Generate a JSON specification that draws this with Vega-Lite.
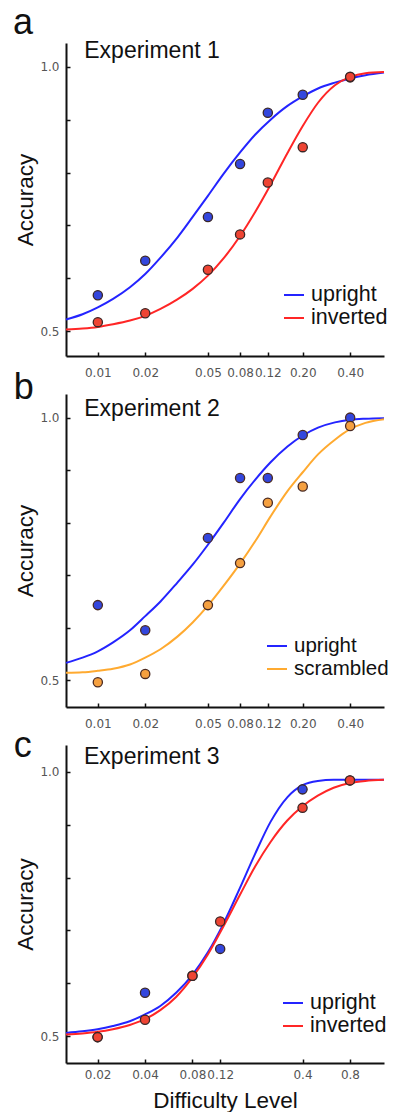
{
  "$schema": "https://vega.github.io/schema/vega-lite/v6.json",
  "background": "white",
  "padding": {"left": 12, "top": 4, "right": 2, "bottom": 0},
  "config": {
    "font": "Liberation Sans",
    "view": {"stroke": null},
    "axis": {
      "grid": false,
      "domainColor": "#111111",
      "domainWidth": 2,
      "tickColor": "#111111",
      "tickWidth": 1.5,
      "tickSize": -4,
      "labelFont": "DejaVu Sans",
      "labelFontSize": 12,
      "labelColor": "#555555",
      "titleFont": "Liberation Sans",
      "titleFontSize": 22.5,
      "titleFontWeight": "normal",
      "titleColor": "#111111"
    },
    "legend": {
      "orient": "none",
      "title": null,
      "symbolType": "stroke",
      "symbolSize": 400,
      "symbolStrokeWidth": 2,
      "labelFont": "Liberation Sans",
      "labelFontSize": 21.5,
      "labelColor": "#111111",
      "labelOffset": 6,
      "rowPadding": 1,
      "padding": 0
    }
  },
  "datasets": {
    "one": [{"k": 1}],
    "aCurve": [
      {"x": 0.00628, "acc": 0.522, "cond": "upright"}, {"x": 0.008, "acc": 0.532, "cond": "upright"}, {"x": 0.01, "acc": 0.545, "cond": "upright"}, {"x": 0.0125, "acc": 0.561, "cond": "upright"}, {"x": 0.016, "acc": 0.583, "cond": "upright"}, {"x": 0.02, "acc": 0.608, "cond": "upright"}, {"x": 0.025, "acc": 0.639, "cond": "upright"}, {"x": 0.032, "acc": 0.677, "cond": "upright"}, {"x": 0.04, "acc": 0.716, "cond": "upright"}, {"x": 0.05, "acc": 0.756, "cond": "upright"}, {"x": 0.063, "acc": 0.798, "cond": "upright"}, {"x": 0.08, "acc": 0.838, "cond": "upright"}, {"x": 0.1, "acc": 0.872, "cond": "upright"}, {"x": 0.125, "acc": 0.9, "cond": "upright"}, {"x": 0.16, "acc": 0.926, "cond": "upright"}, {"x": 0.2, "acc": 0.944, "cond": "upright"}, {"x": 0.25, "acc": 0.959, "cond": "upright"}, {"x": 0.32, "acc": 0.97, "cond": "upright"}, {"x": 0.4, "acc": 0.978, "cond": "upright"}, {"x": 0.5, "acc": 0.984, "cond": "upright"}, {"x": 0.656, "acc": 0.989, "cond": "upright"},
      {"x": 0.00628, "acc": 0.503, "cond": "inverted"}, {"x": 0.008, "acc": 0.505, "cond": "inverted"}, {"x": 0.01, "acc": 0.508, "cond": "inverted"}, {"x": 0.0125, "acc": 0.513, "cond": "inverted"}, {"x": 0.016, "acc": 0.52, "cond": "inverted"}, {"x": 0.02, "acc": 0.529, "cond": "inverted"}, {"x": 0.025, "acc": 0.542, "cond": "inverted"}, {"x": 0.032, "acc": 0.56, "cond": "inverted"}, {"x": 0.04, "acc": 0.58, "cond": "inverted"}, {"x": 0.05, "acc": 0.605, "cond": "inverted"}, {"x": 0.063, "acc": 0.638, "cond": "inverted"}, {"x": 0.08, "acc": 0.68, "cond": "inverted"}, {"x": 0.1, "acc": 0.726, "cond": "inverted"}, {"x": 0.125, "acc": 0.777, "cond": "inverted"}, {"x": 0.16, "acc": 0.837, "cond": "inverted"}, {"x": 0.2, "acc": 0.888, "cond": "inverted"}, {"x": 0.25, "acc": 0.932, "cond": "inverted"}, {"x": 0.32, "acc": 0.965, "cond": "inverted"}, {"x": 0.4, "acc": 0.981, "cond": "inverted"}, {"x": 0.5, "acc": 0.988, "cond": "inverted"}, {"x": 0.656, "acc": 0.99, "cond": "inverted"}
    ],
    "aPts": [
      {"x": 0.01, "acc": 0.568, "cond": "upright"}, {"x": 0.02, "acc": 0.633, "cond": "upright"}, {"x": 0.05, "acc": 0.716, "cond": "upright"}, {"x": 0.08, "acc": 0.816, "cond": "upright"}, {"x": 0.12, "acc": 0.913, "cond": "upright"}, {"x": 0.2, "acc": 0.947, "cond": "upright"}, {"x": 0.4, "acc": 0.98, "cond": "upright"},
      {"x": 0.01, "acc": 0.517, "cond": "inverted"}, {"x": 0.02, "acc": 0.534, "cond": "inverted"}, {"x": 0.05, "acc": 0.616, "cond": "inverted"}, {"x": 0.08, "acc": 0.683, "cond": "inverted"}, {"x": 0.12, "acc": 0.781, "cond": "inverted"}, {"x": 0.2, "acc": 0.848, "cond": "inverted"}, {"x": 0.4, "acc": 0.981, "cond": "inverted"}
    ],
    "bCurve": [
      {"x": 0.00628, "acc": 0.533, "cond": "upright"}, {"x": 0.008, "acc": 0.543, "cond": "upright"}, {"x": 0.01, "acc": 0.555, "cond": "upright"}, {"x": 0.0125, "acc": 0.572, "cond": "upright"}, {"x": 0.016, "acc": 0.595, "cond": "upright"}, {"x": 0.02, "acc": 0.622, "cond": "upright"}, {"x": 0.025, "acc": 0.65, "cond": "upright"}, {"x": 0.032, "acc": 0.686, "cond": "upright"}, {"x": 0.04, "acc": 0.72, "cond": "upright"}, {"x": 0.05, "acc": 0.758, "cond": "upright"}, {"x": 0.063, "acc": 0.8, "cond": "upright"}, {"x": 0.08, "acc": 0.845, "cond": "upright"}, {"x": 0.1, "acc": 0.882, "cond": "upright"}, {"x": 0.125, "acc": 0.915, "cond": "upright"}, {"x": 0.16, "acc": 0.945, "cond": "upright"}, {"x": 0.2, "acc": 0.966, "cond": "upright"}, {"x": 0.25, "acc": 0.981, "cond": "upright"}, {"x": 0.32, "acc": 0.991, "cond": "upright"}, {"x": 0.4, "acc": 0.996, "cond": "upright"}, {"x": 0.5, "acc": 0.998, "cond": "upright"}, {"x": 0.656, "acc": 0.999, "cond": "upright"},
      {"x": 0.00628, "acc": 0.514, "cond": "scrambled"}, {"x": 0.008, "acc": 0.515, "cond": "scrambled"}, {"x": 0.01, "acc": 0.518, "cond": "scrambled"}, {"x": 0.0125, "acc": 0.522, "cond": "scrambled"}, {"x": 0.016, "acc": 0.53, "cond": "scrambled"}, {"x": 0.02, "acc": 0.543, "cond": "scrambled"}, {"x": 0.025, "acc": 0.559, "cond": "scrambled"}, {"x": 0.032, "acc": 0.583, "cond": "scrambled"}, {"x": 0.04, "acc": 0.61, "cond": "scrambled"}, {"x": 0.05, "acc": 0.642, "cond": "scrambled"}, {"x": 0.063, "acc": 0.68, "cond": "scrambled"}, {"x": 0.08, "acc": 0.722, "cond": "scrambled"}, {"x": 0.1, "acc": 0.765, "cond": "scrambled"}, {"x": 0.125, "acc": 0.812, "cond": "scrambled"}, {"x": 0.16, "acc": 0.86, "cond": "scrambled"}, {"x": 0.2, "acc": 0.896, "cond": "scrambled"}, {"x": 0.25, "acc": 0.93, "cond": "scrambled"}, {"x": 0.32, "acc": 0.958, "cond": "scrambled"}, {"x": 0.4, "acc": 0.978, "cond": "scrambled"}, {"x": 0.5, "acc": 0.99, "cond": "scrambled"}, {"x": 0.656, "acc": 0.997, "cond": "scrambled"}
    ],
    "bPts": [
      {"x": 0.01, "acc": 0.643, "cond": "upright"}, {"x": 0.02, "acc": 0.595, "cond": "upright"}, {"x": 0.05, "acc": 0.771, "cond": "upright"}, {"x": 0.08, "acc": 0.885, "cond": "upright"}, {"x": 0.12, "acc": 0.885, "cond": "upright"}, {"x": 0.2, "acc": 0.967, "cond": "upright"}, {"x": 0.4, "acc": 1.0, "cond": "upright"},
      {"x": 0.01, "acc": 0.496, "cond": "scrambled"}, {"x": 0.02, "acc": 0.512, "cond": "scrambled"}, {"x": 0.05, "acc": 0.643, "cond": "scrambled"}, {"x": 0.08, "acc": 0.723, "cond": "scrambled"}, {"x": 0.12, "acc": 0.838, "cond": "scrambled"}, {"x": 0.2, "acc": 0.869, "cond": "scrambled"}, {"x": 0.4, "acc": 0.984, "cond": "scrambled"}
    ],
    "cCurve": [
      {"x": 0.0126, "acc": 0.506, "cond": "upright"}, {"x": 0.016, "acc": 0.509, "cond": "upright"}, {"x": 0.02, "acc": 0.513, "cond": "upright"}, {"x": 0.025, "acc": 0.519, "cond": "upright"}, {"x": 0.032, "acc": 0.528, "cond": "upright"}, {"x": 0.04, "acc": 0.541, "cond": "upright"}, {"x": 0.05, "acc": 0.557, "cond": "upright"}, {"x": 0.063, "acc": 0.582, "cond": "upright"}, {"x": 0.08, "acc": 0.616, "cond": "upright"}, {"x": 0.1, "acc": 0.658, "cond": "upright"}, {"x": 0.125, "acc": 0.711, "cond": "upright"}, {"x": 0.16, "acc": 0.78, "cond": "upright"}, {"x": 0.2, "acc": 0.845, "cond": "upright"}, {"x": 0.25, "acc": 0.905, "cond": "upright"}, {"x": 0.32, "acc": 0.952, "cond": "upright"}, {"x": 0.4, "acc": 0.975, "cond": "upright"}, {"x": 0.5, "acc": 0.983, "cond": "upright"}, {"x": 0.63, "acc": 0.985, "cond": "upright"}, {"x": 0.8, "acc": 0.985, "cond": "upright"}, {"x": 1.0, "acc": 0.985, "cond": "upright"}, {"x": 1.316, "acc": 0.985, "cond": "upright"},
      {"x": 0.0126, "acc": 0.503, "cond": "inverted"}, {"x": 0.016, "acc": 0.505, "cond": "inverted"}, {"x": 0.02, "acc": 0.508, "cond": "inverted"}, {"x": 0.025, "acc": 0.513, "cond": "inverted"}, {"x": 0.032, "acc": 0.521, "cond": "inverted"}, {"x": 0.04, "acc": 0.532, "cond": "inverted"}, {"x": 0.05, "acc": 0.549, "cond": "inverted"}, {"x": 0.063, "acc": 0.574, "cond": "inverted"}, {"x": 0.08, "acc": 0.611, "cond": "inverted"}, {"x": 0.1, "acc": 0.654, "cond": "inverted"}, {"x": 0.125, "acc": 0.706, "cond": "inverted"}, {"x": 0.16, "acc": 0.767, "cond": "inverted"}, {"x": 0.2, "acc": 0.821, "cond": "inverted"}, {"x": 0.25, "acc": 0.867, "cond": "inverted"}, {"x": 0.32, "acc": 0.908, "cond": "inverted"}, {"x": 0.4, "acc": 0.935, "cond": "inverted"}, {"x": 0.5, "acc": 0.955, "cond": "inverted"}, {"x": 0.63, "acc": 0.97, "cond": "inverted"}, {"x": 0.8, "acc": 0.979, "cond": "inverted"}, {"x": 1.0, "acc": 0.983, "cond": "inverted"}, {"x": 1.316, "acc": 0.985, "cond": "inverted"}
    ],
    "cPts": [
      {"x": 0.02, "acc": 0.498, "cond": "upright"}, {"x": 0.04, "acc": 0.582, "cond": "upright"}, {"x": 0.08, "acc": 0.614, "cond": "upright"}, {"x": 0.12, "acc": 0.665, "cond": "upright"}, {"x": 0.4, "acc": 0.967, "cond": "upright"}, {"x": 0.8, "acc": 0.984, "cond": "upright"},
      {"x": 0.02, "acc": 0.498, "cond": "inverted"}, {"x": 0.04, "acc": 0.531, "cond": "inverted"}, {"x": 0.08, "acc": 0.614, "cond": "inverted"}, {"x": 0.12, "acc": 0.717, "cond": "inverted"}, {"x": 0.4, "acc": 0.932, "cond": "inverted"}, {"x": 0.8, "acc": 0.984, "cond": "inverted"}
    ]
  },
  "spacing": 38,
  "bounds": "flush",
  "resolve": {"scale": {"color": "independent", "fill": "independent"}, "legend": {"color": "independent"}},
  "vconcat": [
    {
      "width": 318,
      "height": 313,
      "layer": [
        {
          "data": {"name": "aCurve"},
          "mark": {"type": "line", "strokeWidth": 2, "interpolate": "monotone"},
          "encoding": {
            "x": {"field": "x", "type": "quantitative", "scale": {"type": "log", "domain": [0.00628, 0.656], "nice": false}, "axis": {"values": [0.01, 0.02, 0.05, 0.08, 0.12, 0.2, 0.4], "format": ".2f", "title": null, "labelPadding": 15}},
            "y": {"field": "acc", "type": "quantitative", "scale": {"domain": [0.453, 1.045], "nice": false, "zero": false}, "axis": {"values": [0.5, 0.6, 0.7, 0.8, 0.9, 1.0], "labelExpr": "datum.value == 0.5 || datum.value == 1 ? format(datum.value, '.1f') : ''", "title": "Accuracy", "titlePadding": 2, "labelPadding": 11}},
            "color": {"field": "cond", "type": "nominal", "scale": {"domain": ["upright", "inverted"], "range": ["#2424ff", "#ff2626"]}, "legend": {"legendX": 217, "legendY": 241}}
          }
        },
        {
          "data": {"name": "aPts"},
          "mark": {"type": "circle", "size": 85, "opacity": 1, "stroke": "#3a2626", "strokeWidth": 1.3},
          "encoding": {
            "x": {"field": "x", "type": "quantitative"},
            "y": {"field": "acc", "type": "quantitative"},
            "fill": {"field": "cond", "type": "nominal", "scale": {"domain": ["upright", "inverted"], "range": ["#3346dd", "#ee4433"]}, "legend": null}
          }
        },
        {
          "data": {"name": "one"},
          "mark": {"type": "text", "align": "left", "baseline": "alphabetic", "fontSize": 23, "font": "Liberation Sans", "color": "#111111"},
          "encoding": {"x": {"datum": 0.0082}, "y": {"datum": 1.017}, "text": {"value": "Experiment 1"}}
        },
        {
          "data": {"name": "one"},
          "mark": {"type": "text", "align": "left", "baseline": "alphabetic", "fontSize": 36, "font": "Liberation Sans", "color": "#111111"},
          "encoding": {"x": {"datum": 0.00289}, "y": {"datum": 1.0625}, "text": {"value": "a"}}
        }
      ]
    },
    {
      "width": 318,
      "height": 313,
      "layer": [
        {
          "data": {"name": "bCurve"},
          "mark": {"type": "line", "strokeWidth": 2, "interpolate": "monotone"},
          "encoding": {
            "x": {"field": "x", "type": "quantitative", "scale": {"type": "log", "domain": [0.00628, 0.656], "nice": false}, "axis": {"values": [0.01, 0.02, 0.05, 0.08, 0.12, 0.2, 0.4], "format": ".2f", "title": null, "labelPadding": 15}},
            "y": {"field": "acc", "type": "quantitative", "scale": {"domain": [0.449, 1.045], "nice": false, "zero": false}, "axis": {"values": [0.5, 0.6, 0.7, 0.8, 0.9, 1.0], "labelExpr": "datum.value == 0.5 || datum.value == 1 ? format(datum.value, '.1f') : ''", "title": "Accuracy", "titlePadding": 2, "labelPadding": 11}},
            "color": {"field": "cond", "type": "nominal", "scale": {"domain": ["upright", "scrambled"], "range": ["#2424ff", "#ffaa30"]}, "legend": {"legendX": 200, "legendY": 241, "labelFontSize": 20.5, "rowPadding": 1}}
          }
        },
        {
          "data": {"name": "bPts"},
          "mark": {"type": "circle", "size": 85, "opacity": 1, "stroke": "#4a2a22", "strokeWidth": 1.3},
          "encoding": {
            "x": {"field": "x", "type": "quantitative"},
            "y": {"field": "acc", "type": "quantitative"},
            "fill": {"field": "cond", "type": "nominal", "scale": {"domain": ["upright", "scrambled"], "range": ["#3346dd", "#f5a040"]}, "legend": null}
          }
        },
        {
          "data": {"name": "one"},
          "mark": {"type": "text", "align": "left", "baseline": "alphabetic", "fontSize": 23, "font": "Liberation Sans", "color": "#111111"},
          "encoding": {"x": {"datum": 0.0082}, "y": {"datum": 1.003}, "text": {"value": "Experiment 2"}}
        },
        {
          "data": {"name": "one"},
          "mark": {"type": "text", "align": "left", "baseline": "alphabetic", "fontSize": 36, "font": "Liberation Sans", "color": "#111111"},
          "encoding": {"x": {"datum": 0.00293}, "y": {"datum": 1.035}, "text": {"value": "b"}}
        }
      ]
    },
    {
      "width": 318,
      "height": 318,
      "layer": [
        {
          "data": {"name": "cCurve"},
          "mark": {"type": "line", "strokeWidth": 2, "interpolate": "monotone"},
          "encoding": {
            "x": {"field": "x", "type": "quantitative", "scale": {"type": "log", "domain": [0.0126, 1.316], "nice": false}, "axis": {"values": [0.02, 0.04, 0.08, 0.12, 0.4, 0.8], "format": "~g", "title": "Difficulty Level", "labelPadding": 10, "titlePadding": 9}},
            "y": {"field": "acc", "type": "quantitative", "scale": {"domain": [0.449, 1.051], "nice": false, "zero": false}, "axis": {"values": [0.5, 0.6, 0.7, 0.8, 0.9, 1.0], "labelExpr": "datum.value == 0.5 || datum.value == 1 ? format(datum.value, '.1f') : ''", "title": "Accuracy", "titlePadding": 2, "labelPadding": 11}},
            "color": {"field": "cond", "type": "nominal", "scale": {"domain": ["upright", "inverted"], "range": ["#2424ff", "#ff2626"]}, "legend": {"legendX": 216, "legendY": 247}}
          }
        },
        {
          "data": {"name": "cPts"},
          "mark": {"type": "circle", "size": 85, "opacity": 1, "stroke": "#3a2626", "strokeWidth": 1.3},
          "encoding": {
            "x": {"field": "x", "type": "quantitative"},
            "y": {"field": "acc", "type": "quantitative"},
            "fill": {"field": "cond", "type": "nominal", "scale": {"domain": ["upright", "inverted"], "range": ["#3346dd", "#ee4433"]}, "legend": null}
          }
        },
        {
          "data": {"name": "one"},
          "mark": {"type": "text", "align": "left", "baseline": "alphabetic", "fontSize": 23, "font": "Liberation Sans", "color": "#111111"},
          "encoding": {"x": {"datum": 0.0164}, "y": {"datum": 1.0146}, "text": {"value": "Experiment 3"}}
        },
        {
          "data": {"name": "one"},
          "mark": {"type": "text", "align": "left", "baseline": "alphabetic", "fontSize": 36, "font": "Liberation Sans", "color": "#111111"},
          "encoding": {"x": {"datum": 0.00588}, "y": {"datum": 1.028}, "text": {"value": "c"}}
        }
      ]
    }
  ]
}
